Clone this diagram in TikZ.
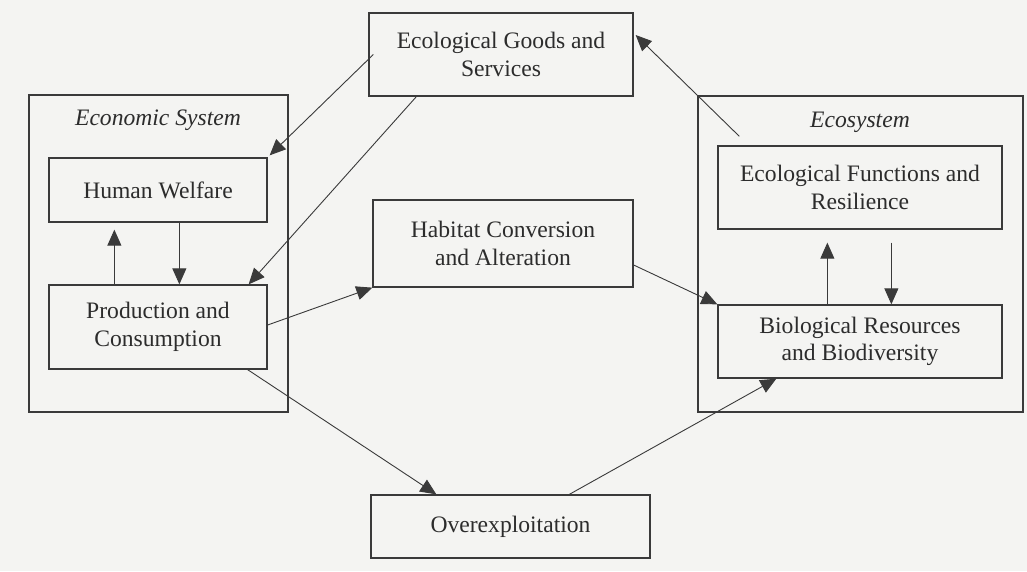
\documentclass[tikz,border=0pt]{standalone}
\usepackage{fontspec}
\setmainfont{Liberation Serif}
\usetikzlibrary{arrows.meta}
\definecolor{paper}{HTML}{F4F4F2}
\definecolor{ink}{HTML}{3A3A3A}
\definecolor{txt}{HTML}{2C2C2C}
\begin{document}
\begin{tikzpicture}[x=1pt,y=-1pt,
  box/.style={draw=ink,line width=1.3pt,inner sep=0pt,align=center,text=txt,
    font=\fontsize{23.6}{27.5}\selectfont},
  lbl/.style={text=txt,font=\fontsize{23.6}{27.5}\selectfont\itshape,inner sep=0pt},
  arr/.style={draw=ink,line width=0.9pt,-{Triangle[length=16pt,width=14pt]}},
]
\useasboundingbox[fill=paper] (0,0) rectangle (1027,571);
% outer systems
\node[box,minimum width=259pt,minimum height=317pt] (econ) at (158.5,253.5) {};
\node[lbl] (econlbl) at (158,120) {Economic System};
\node[box,minimum width=325pt,minimum height=316pt] (eco) at (860.5,254) {};
\node[lbl] (ecolbl) at (860,122) {Ecosystem};
% boxes
\node[box,minimum width=218pt,minimum height=64pt] (hw) at (158,190) {Human Welfare};
\node[box,minimum width=218pt,minimum height=84pt] (pc) at (158,327) {Production and\\Consumption};
\node[box,minimum width=264pt,minimum height=83pt] (egs) at (501,54.5) {Ecological Goods and\\Services};
\node[box,minimum width=260pt,minimum height=87pt] (hab) at (503,243.5) {Habitat Conversion\\and Alteration};
\node[box,minimum width=279pt,minimum height=63pt] (over) at (510.5,526.5) {Overexploitation};
\node[box,minimum width=284pt,minimum height=83pt] (ef) at (860,187.5) {Ecological Functions and\\Resilience};
\node[box,minimum width=284pt,minimum height=73pt] (bio) at (860,341.5) {Biological Resources\\and Biodiversity};
% connectors
\draw[arr] ([xshift=5pt]egs.west) -- ([xshift=2pt,yshift=2pt]hw.north east);
\draw[arr] ([xshift=48pt]egs.south west) -- ([xshift=-19pt]pc.north east);
\draw[arr] ([yshift=2pt]pc.east) -- (hab.south west);
\draw[arr] ([xshift=-20pt]pc.south east) -- ([xshift=66pt]over.north west);
\draw[arr] ([xshift=199pt]over.north west) -- ([xshift=59pt]bio.south west);
\draw[arr] ([yshift=-21.5pt]hab.east) -- (bio.north west);
\draw[arr] ([xshift=22pt,yshift=9pt]ef.north west) -- ([xshift=2pt,yshift=19.5pt]egs.east);
\draw[arr] ([xshift=66pt]pc.north west) -- ([xshift=66pt,yshift=-7pt]hw.south west);
\draw[arr] ([xshift=131pt]hw.south west) -- ([xshift=131pt]pc.north west);
\draw[arr] ([xshift=110pt]bio.north west) -- ([xshift=110pt,yshift=-13pt]ef.south west);
\draw[arr] ([xshift=174pt,yshift=-13pt]ef.south west) -- ([xshift=174pt]bio.north west);
\end{tikzpicture}
\end{document}
